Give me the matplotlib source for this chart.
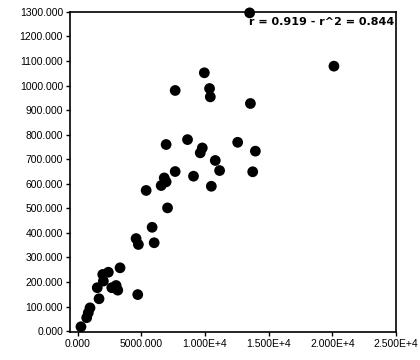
import matplotlib
matplotlib.use("Agg")
import matplotlib.pyplot as plt

# scatter values
x_vals = [260, 710, 835, 970, 1680, 1540, 2020, 1970, 2410, 3330,
          2680, 3020, 3150, 4720, 4590, 4770, 5380, 5850, 6010, 6560,
          6950, 6800, 7060, 7660, 9100, 6950, 8630, 9630, 9790, 7660,
          9950, 10360, 10420, 10500, 10810, 11150, 12570, 13570, 13960, 13750,
          13510, 20130]
y_vals = [18, 55, 75, 95, 132, 177, 204, 231, 240, 258,
          177, 186, 167, 149, 377, 353, 573, 423, 360, 593,
          608, 624, 502, 650, 631, 760, 780, 726, 746, 980,
          1052, 988, 954, 590, 695, 654, 769, 927, 733, 649,
          1296, 1079]

x_ticks = [0, 5000, 10000, 15000, 20000, 25000]
x_labels = ["0.000", "5000.000", "1.000E+4", "1.500E+4", "2.000E+4", "2.500E+4"]
y_ticks = list(range(0, 1301, 100))
y_labels = ["%.3f" % v for v in y_ticks]

fig = plt.figure(figsize=(4.2, 3.6), dpi=100)
ax = fig.add_axes([0.1667, 0.078, 0.776, 0.889])

ax.scatter(x_vals, y_vals, s=60, c="black", edgecolors="none", zorder=3, clip_on=False)

ax.set_xlim(-600, 25000)
ax.set_ylim(-3, 1300)
ax.set_xticks(x_ticks)
ax.set_xticklabels(x_labels, family="Liberation Sans")
ax.set_yticks(y_ticks)
ax.set_yticklabels(y_labels, family="Liberation Sans")
ax.tick_params(direction="out", length=3, width=1, labelsize=7.5, pad=2, colors="black")

for s in ax.spines.values():
    s.set_linewidth(1.2)

ax.text(0.995, 0.985, "r = 0.919 - r^2 = 0.844", transform=ax.transAxes,
        ha="right", va="top", fontsize=8, fontweight="bold")

fig.savefig("out.png", dpi=100)
